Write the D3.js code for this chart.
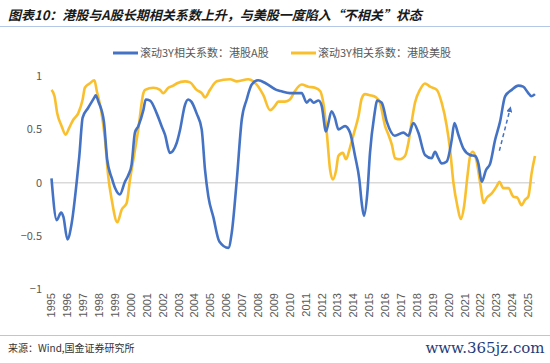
<!DOCTYPE html>
<html>
<head>
<meta charset="utf-8">
<script src="https://cdn.jsdelivr.net/npm/d3@7"></script>
<style>
  body { margin: 0; background: #fff; }
  svg { display: block; font-family: "Noto Sans CJK SC", "Noto Sans", sans-serif; }
</style>
</head>
<body>
<div id="chart"></div>
<script>
// rolling 3Y correlation, HK vs A-share (decimal year, value)
const hkAYears = [1995.0, 1995.33, 1995.6, 1995.75, 1996.0, 1996.27, 1996.58, 1996.75, 1996.96, 1997.3, 1997.7, 1997.78, 1997.95,
  1998.3, 1998.5, 1998.8, 1999.0, 1999.3, 1999.62, 1999.83, 2000.04, 2000.25, 2000.46, 2000.78, 2000.93, 2001.2, 2001.62,
  2001.93, 2002.14, 2002.45, 2002.87, 2003.08, 2003.4, 2003.6, 2003.8, 2004.13, 2004.45, 2004.66, 2004.87, 2005.18, 2005.56,
  2006.13, 2006.34, 2006.66, 2006.97, 2007.28, 2007.6, 2008.0, 2008.5, 2009.15, 2009.4, 2010.0, 2010.74, 2011.06, 2011.27,
  2011.48, 2011.8, 2012.0, 2012.27, 2012.62, 2012.83, 2013.05, 2013.47, 2013.78, 2014.1, 2014.37, 2014.52, 2014.66, 2014.87,
  2015.04, 2015.3, 2015.5, 2015.78, 2016.1, 2016.6, 2017.14, 2017.45, 2017.77, 2018.08, 2018.5, 2018.92, 2019.13, 2019.34,
  2019.55, 2019.87, 2020.18, 2020.35, 2020.6, 2020.92, 2021.34, 2021.65, 2021.86, 2022.07, 2022.34, 2022.6, 2022.91, 2023.22,
  2023.54, 2023.96, 2024.37, 2024.68, 2025.0, 2025.2, 2025.42];
const hkAValues = [0.04, -0.35, -0.28, -0.32, -0.53, -0.38, 0.0, 0.25, 0.61, 0.70, 0.80, 0.82, 0.76,
  0.57, 0.22, 0.04, -0.05, -0.11, 0.01, 0.07, 0.17, 0.47, 0.53, 0.68, 0.78, 0.77, 0.65,
  0.53, 0.45, 0.28, 0.37, 0.49, 0.73, 0.78, 0.76, 0.65, 0.50, 0.12, -0.13, -0.32, -0.55,
  -0.61, -0.47, 0.03, 0.59, 0.78, 0.92, 0.96, 0.93, 0.87, 0.86, 0.84, 0.84, 0.75, 0.78,
  0.75, 0.77, 0.72, 0.48, 0.67, 0.61, 0.50, 0.53, 0.47, 0.25, 0.03, -0.19, -0.31, -0.10,
  0.28, 0.62, 0.77, 0.75, 0.57, 0.44, 0.47, 0.44, 0.56, 0.47, 0.26, 0.23, 0.29, 0.23,
  0.18, 0.20, 0.40, 0.56, 0.45, 0.32, 0.26, 0.25, 0.18, 0.01, 0.12, 0.18, 0.40, 0.57,
  0.81, 0.87, 0.91, 0.90, 0.84, 0.81, 0.83];

// rolling 3Y correlation, HK vs US
const hkUsYears = [1995.0, 1995.19, 1995.36, 1995.64, 1995.89, 1996.1, 1996.37, 1996.68, 1996.96, 1997.1, 1997.4, 1997.7, 1997.85,
  1998.12, 1998.37, 1998.57, 1998.79, 1999.14, 1999.42, 1999.73, 1999.94, 2000.19, 2000.46, 2000.78, 2000.89, 2001.41, 2001.83,
  2002.03, 2002.35, 2002.66, 2002.87, 2003.4, 2003.72, 2004.13, 2004.45, 2004.66, 2004.97, 2005.4, 2006.23, 2006.66, 2007.38,
  2007.7, 2008.33, 2008.75, 2009.06, 2009.27, 2009.7, 2010.0, 2010.32, 2010.74, 2011.16, 2011.58, 2011.9, 2012.1, 2012.32,
  2012.53, 2012.7, 2012.91, 2013.05, 2013.33, 2013.53, 2013.78, 2014.04, 2014.31, 2014.52, 2014.73, 2015.04, 2015.42, 2015.67,
  2015.99, 2016.2, 2016.41, 2016.62, 2016.93, 2017.24, 2017.45, 2017.66, 2017.87, 2018.18, 2018.5, 2018.82, 2019.24, 2019.55,
  2019.87, 2020.08, 2020.29, 2020.54, 2020.75, 2020.96, 2021.17, 2021.34, 2021.51, 2021.72, 2021.97, 2022.18, 2022.39, 2022.7,
  2023.02, 2023.18, 2023.43, 2023.75, 2024.06, 2024.31, 2024.58, 2024.79, 2025.0, 2025.21, 2025.42];
const hkUsValues = [0.87, 0.81, 0.65, 0.53, 0.45, 0.51, 0.59, 0.65, 0.78, 0.89, 0.93, 0.96, 0.86,
  0.68, 0.40, 0.06, -0.16, -0.37, -0.25, -0.19, 0.03, 0.25, 0.50, 0.84, 0.87, 0.89, 0.87,
  0.84, 0.89, 0.91, 0.93, 0.95, 0.94, 0.87, 0.84, 0.80, 0.87, 0.95, 0.97, 0.95, 0.97,
  0.95, 0.82, 0.68, 0.72, 0.76, 0.76, 0.78, 0.86, 0.92, 0.90, 0.89, 0.86, 0.75, 0.47,
  0.12, 0.03, 0.12, 0.25, 0.28, 0.22, 0.33, 0.47, 0.62, 0.79, 0.83, 0.82, 0.80, 0.75,
  0.53, 0.45, 0.36, 0.23, 0.22, 0.25, 0.37, 0.57, 0.75, 0.87, 0.93, 0.90, 0.87, 0.75,
  0.53, 0.31, 0.0, -0.22, -0.34, -0.22, 0.06, 0.25, 0.29, 0.22, 0.0, -0.19, -0.14, -0.10,
  -0.03, 0.01, -0.05, -0.05, -0.13, -0.14, -0.21, -0.16, -0.13, 0.09, 0.25];

const yearTicks = d3.range(1995, 2026);
const yTicks = [1, 0.5, 0, -0.5, -1];
const seriesNames = ['滚动3Y相关系数：港股A股', '滚动3Y相关系数：港股美股'];
const seriesColors = ['#4472C4', '#FABF2D'];
// dashed arrow annotation (year, value)
const arrowFrom = [2023.18, 0.30];
const arrowTo = [2023.85, 0.69];

const W = 550, H = 363;
const svg = d3.select('#chart').append('svg').attr('width', W).attr('height', H);

const x = d3.scaleLinear().domain([1995, 2025]).range([51.5, 528.3]);
const y = d3.scaleLinear().domain([-1, 1]).range([289.5, 76]);

// title
svg.append('text').attr('x', 8).attr('y', 20)
    .attr('font-size', 13).attr('font-weight', 'bold').attr('font-style', 'italic')
    .attr('fill', '#1a1a1a')
    .text('图表10：港股与A股长期相关系数上升，与美股一度陷入“不相关”状态');
svg.append('line').attr('x1', 0).attr('x2', W).attr('y1', 26.5).attr('y2', 26.5)
    .attr('stroke', '#b4c7e7').attr('stroke-width', 1);

// legend
const legendX = [113, 291];
seriesNames.forEach((name, i) => {
    const g = svg.append('g').attr('transform', `translate(${legendX[i]},53)`);
    g.append('line').attr('x1', 0).attr('x2', 25).attr('stroke', seriesColors[i]).attr('stroke-width', 3);
    g.append('text').attr('x', 27).attr('dy', '0.35em').attr('font-size', 11).attr('fill', '#595959').text(name);
});

// y labels
svg.append('g').selectAll('text').data(yTicks).join('text')
    .attr('x', 42).attr('y', d => y(d)).attr('dy', '0.35em')
    .attr('text-anchor', 'end').attr('font-size', 11).attr('fill', '#595959')
    .text(d => d < 0 ? '\u2212' + Math.abs(d) : d);

// zero line
svg.append('line').attr('x1', x(1995) - 1).attr('x2', x(2025.42))
    .attr('y1', y(0)).attr('y2', y(0)).attr('stroke', '#d9d9d9').attr('stroke-width', 1.5);

// x labels, rotated
svg.append('g').selectAll('text').data(yearTicks).join('text')
    .attr('transform', d => `translate(${x(d)},293) rotate(-90)`)
    .attr('dy', '0.35em').attr('text-anchor', 'end')
    .attr('font-size', 11).attr('fill', '#595959').attr('font-family', 'Liberation Sans, Arial, sans-serif')
    .text(d => d);

// lines
const line = d3.line().x(d => x(d[0])).y(d => y(d[1])).curve(d3.curveMonotoneX);
const seriesData = [
    d3.zip(hkAYears, hkAValues),
    d3.zip(hkUsYears, hkUsValues)
];
// draw yellow first so blue sits on top
[1, 0].forEach(i => {
    svg.append('path').datum(seriesData[i]).attr('d', line)
        .attr('fill', 'none').attr('stroke', seriesColors[i])
        .attr('stroke-width', 2.6).attr('stroke-linejoin', 'round');
});

// arrow
svg.append('defs').append('marker').attr('id', 'arr')
    .attr('viewBox', '0 0 10 10').attr('refX', 5).attr('refY', 5)
    .attr('markerWidth', 4).attr('markerHeight', 4).attr('orient', 'auto')
    .append('path').attr('d', 'M0,0 L10,5 L0,10 z').attr('fill', '#4472C4');
svg.append('line')
    .attr('x1', x(arrowFrom[0])).attr('y1', y(arrowFrom[1]))
    .attr('x2', x(arrowTo[0])).attr('y2', y(arrowTo[1]))
    .attr('stroke', '#4472C4').attr('stroke-width', 1.5)
    .attr('stroke-dasharray', '4,3').attr('marker-end', 'url(#arr)');

// footer
svg.append('line').attr('x1', 0).attr('x2', W).attr('y1', 335.5).attr('y2', 335.5)
    .attr('stroke', '#b4c7e7').attr('stroke-width', 1);
svg.append('text').attr('x', 8).attr('y', 348).attr('dy', '0.35em')
    .attr('font-size', 10).attr('fill', '#333').text('来源：Wind,国金证券研究所');
svg.append('text').attr('x', 485).attr('y', 348).attr('dy', '0.35em')
    .attr('text-anchor', 'middle')
    .attr('font-size', 15).attr('font-family', 'DejaVu Serif, serif').attr('fill', '#1f3d7a')
    .text('www.365jz.com');
</script>
</body>
</html>
